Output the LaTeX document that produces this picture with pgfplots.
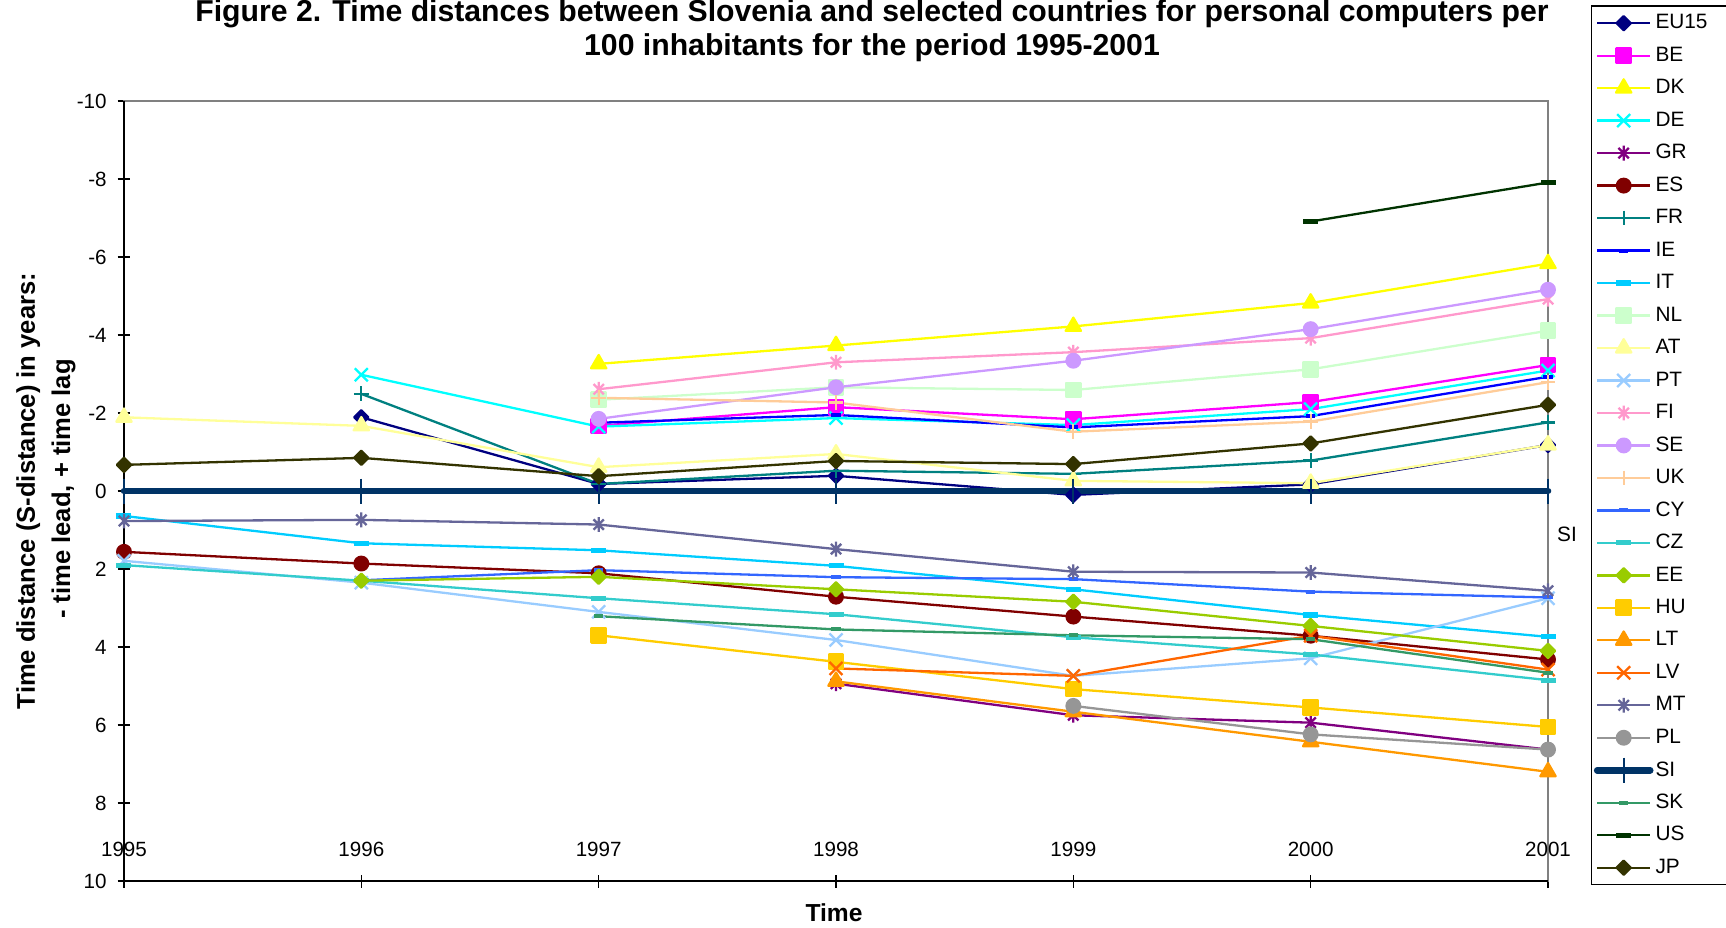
\documentclass[border=0pt]{standalone}
\usepackage{fontspec}
\setmainfont{Liberation Sans}
\usepackage{pgfplots}
\pgfplotsset{compat=1.18}
\definecolor{cEU}{HTML}{000080}\definecolor{cBE}{HTML}{FF00FF}\definecolor{cDK}{HTML}{FFFF00}
\definecolor{cDE}{HTML}{00FFFF}\definecolor{cGR}{HTML}{800080}\definecolor{cES}{HTML}{800000}
\definecolor{cFR}{HTML}{008080}\definecolor{cIE}{HTML}{0000FF}\definecolor{cIT}{HTML}{00CCFF}
\definecolor{cNL}{HTML}{CCFFCC}\definecolor{cAT}{HTML}{FFFF99}\definecolor{cPT}{HTML}{99CCFF}
\definecolor{cFI}{HTML}{FF99CC}\definecolor{cSE}{HTML}{CC99FF}\definecolor{cUK}{HTML}{FFCC99}
\definecolor{cCY}{HTML}{3366FF}\definecolor{cCZ}{HTML}{33CCCC}\definecolor{cEE}{HTML}{99CC00}
\definecolor{cHU}{HTML}{FFCC00}\definecolor{cLT}{HTML}{FF9900}\definecolor{cLV}{HTML}{FF6600}
\definecolor{cMT}{HTML}{666699}\definecolor{cPL}{HTML}{969696}\definecolor{cSI}{HTML}{003366}
\definecolor{cSK}{HTML}{339966}\definecolor{cUS}{HTML}{003300}\definecolor{cJP}{HTML}{333300}
\pgfdeclareplotmark{sdash}{\pgfpathrectangle{\pgfpoint{-2.3bp}{-1bp}}{\pgfpoint{4.6bp}{2bp}}\pgfusepathqfill}
\pgfdeclareplotmark{ldash}{\pgfpathrectangle{\pgfpoint{-3.75bp}{-1.3bp}}{\pgfpoint{7.5bp}{2.6bp}}\pgfusepathqfill}
\pgfdeclareplotmark{xast}{%
 \pgfpathmoveto{\pgfqpoint{-.7\pgfplotmarksize}{-.7\pgfplotmarksize}}\pgfpathlineto{\pgfqpoint{.7\pgfplotmarksize}{.7\pgfplotmarksize}}%
 \pgfpathmoveto{\pgfqpoint{-.7\pgfplotmarksize}{.7\pgfplotmarksize}}\pgfpathlineto{\pgfqpoint{.7\pgfplotmarksize}{-.7\pgfplotmarksize}}%
 \pgfpathmoveto{\pgfqpoint{0pt}{-\pgfplotmarksize}}\pgfpathlineto{\pgfqpoint{0pt}{\pgfplotmarksize}}%
 \pgfusepathqstroke}
\pgfplotsset{
 dia/.style={mark=square*, mark size=2.5bp, mark options={rotate=45}},
 sq/.style={mark=square*, mark size=3.6bp},
 tri/.style={mark=triangle*, mark size=4.4bp},
 crs/.style={mark=x, mark size=4.6bp},
 ast/.style={mark=xast, mark size=3.7bp},
 circ/.style={mark=*, mark size=3.4bp},
 pls/.style={mark=+, mark size=3.7bp},
}
\begin{document}
\begin{tikzpicture}
\begin{axis}[
 scale only axis, width=712bp, height=390bp,
 xmin=1995, xmax=2001, ymin=-10, ymax=10, y dir=reverse,
 xtick={1995,1996,1997,1998,1999,2000,2001},
 ytick={-10,-8,-6,-4,-2,0,2,4,6,8,10},
 x tick label style={/pgf/number format/1000 sep={}},
 /pgf/number format/assume math mode=true,
 tick label style={font=\fontsize{10.3bp}{12bp}\selectfont},
 xticklabel style={anchor=base, inner sep=0pt, yshift=15.75bp},
 yticklabel style={anchor=east, inner sep=0pt, xshift=-5.25bp},
 tick align=center, major tick length=6.5bp, xtick pos=left, ytick pos=left,
 axis line style={draw=gray, line width=0.75bp},
 every tick/.style={black, line width=0.6bp},
 clip=false,
 every axis plot/.append style={line width=1.15bp, line join=round},
 legend image code/.code={\draw[mark repeat=2,mark phase=2,#1] plot coordinates {(0bp,0bp) (13.25bp,0bp) (26.5bp,0bp)};},
 legend cell align=left,
 legend style={at={(axis cs:2001.179,-12.45)}, anchor=north west, draw=black, line width=0.7bp, fill=white,
   inner xsep=1.35bp, inner ysep=0.4bp, row sep=0pt, column sep=0pt,
   font=\fontsize{10.4bp}{12bp}\selectfont,
   nodes={inner xsep=1bp, inner ysep=0pt, minimum height=16.24bp, text width=40.3bp, align=left}},
]
\coordinate (O) at (axis cs:1995,10);
\draw[black, line width=1bp] (axis cs:1995,-10) -- (axis cs:1995,10) -- (axis cs:2001,10);
\addplot[color=cEU, dia] coordinates {(1996,-1.89) (1997,-0.18) (1998,-0.39) (1999,0.10) (2000,-0.17) (2001,-1.18)};
\addplot[color=cBE, sq] coordinates {(1997,-1.67) (1998,-2.15) (1999,-1.84) (2000,-2.28) (2001,-3.23)};
\addplot[color=cDK, tri] coordinates {(1997,-3.26) (1998,-3.73) (1999,-4.22) (2000,-4.82) (2001,-5.83)};
\addplot[color=cDE, crs] coordinates {(1996,-2.98) (1997,-1.65) (1998,-1.87) (1999,-1.69) (2000,-2.10) (2001,-3.09)};
\addplot[color=cGR, ast] coordinates {(1998,4.94) (1999,5.75) (2000,5.94) (2001,6.63)};
\addplot[color=cES, circ] coordinates {(1995,1.56) (1996,1.86) (1997,2.11) (1998,2.71) (1999,3.22) (2000,3.71) (2001,4.32)};
\addplot[color=cFR, pls] coordinates {(1996,-2.49) (1997,-0.18) (1998,-0.52) (1999,-0.44) (2000,-0.78) (2001,-1.76)};
\addplot[color=cIE, mark=sdash] coordinates {(1997,-1.75) (1998,-1.95) (1999,-1.63) (2000,-1.92) (2001,-2.93)};
\addplot[color=cIT, mark=ldash] coordinates {(1995,0.64) (1996,1.34) (1997,1.52) (1998,1.92) (1999,2.52) (2000,3.18) (2001,3.74)};
\addplot[color=cNL, sq] coordinates {(1997,-2.34) (1998,-2.66) (1999,-2.59) (2000,-3.12) (2001,-4.11)};
\addplot[color=cAT, tri] coordinates {(1995,-1.89) (1996,-1.67) (1997,-0.61) (1998,-0.95) (1999,-0.26) (2000,-0.20) (2001,-1.18)};
\addplot[color=cPT, crs] coordinates {(1995,1.79) (1996,2.35) (1997,3.10) (1998,3.82) (1999,4.74) (2000,4.29) (2001,2.75)};
\addplot[color=cFI, ast] coordinates {(1997,-2.61) (1998,-3.30) (1999,-3.56) (2000,-3.92) (2001,-4.92)};
\addplot[color=cSE, circ] coordinates {(1997,-1.85) (1998,-2.66) (1999,-3.34) (2000,-4.15) (2001,-5.16)};
\addplot[color=cUK, pls] coordinates {(1997,-2.39) (1998,-2.27) (1999,-1.52) (2000,-1.78) (2001,-2.79)};
\addplot[color=cCY, mark=sdash] coordinates {(1996,2.29) (1997,2.03) (1998,2.21) (1999,2.26) (2000,2.58) (2001,2.73)};
\addplot[color=cCZ, mark=ldash] coordinates {(1995,1.90) (1996,2.30) (1997,2.75) (1998,3.16) (1999,3.75) (2000,4.19) (2001,4.85)};
\addplot[color=cEE, dia] coordinates {(1996,2.30) (1997,2.20) (1998,2.52) (1999,2.84) (2000,3.46) (2001,4.10)};
\addplot[color=cHU, sq] coordinates {(1997,3.70) (1998,4.38) (1999,5.08) (2000,5.55) (2001,6.05)};
\addplot[color=cLT, tri] coordinates {(1998,4.88) (1999,5.66) (2000,6.43) (2001,7.20)};
\addplot[color=cLV, crs] coordinates {(1998,4.55) (1999,4.74) (2000,3.71) (2001,4.58)};
\addplot[color=cMT, ast] coordinates {(1995,0.77) (1996,0.74) (1997,0.86) (1998,1.49) (1999,2.07) (2000,2.09) (2001,2.56)};
\addplot[color=cPL, circ] coordinates {(1999,5.51) (2000,6.24) (2001,6.63)};
\addplot[color=cSI, line width=3.3bp, line cap=round, mark=|, mark size=6.25bp, mark options={line width=1bp, line cap=butt}] coordinates {(1995,0) (1996,0) (1997,0) (1998,0) (1999,0) (2000,0) (2001,0)};
\addplot[color=cSK, mark=sdash] coordinates {(1997,3.21) (1998,3.55) (1999,3.70) (2000,3.80) (2001,4.66)};
\addplot[color=cUS, mark=ldash] coordinates {(2000,-6.91) (2001,-7.91)};
\addplot[color=cJP, dia] coordinates {(1995,-0.67) (1996,-0.85) (1997,-0.38) (1998,-0.77) (1999,-0.69) (2000,-1.22) (2001,-2.21)};
\legend{EU15,BE,DK,DE,GR,ES,FR,IE,IT,NL,AT,PT,FI,SE,UK,CY,CZ,EE,HU,LT,LV,MT,PL,SI,SK,US,JP}
\end{axis}
\node[anchor=base, font=\bfseries\fontsize{15.1bp}{17bp}\selectfont] at ([shift={(374bp,429.6bp)}]O) {Figure 2. Time distances between Slovenia and selected countries for personal computers per};
\node[anchor=base, font=\bfseries\fontsize{15.1bp}{17bp}\selectfont] at ([shift={(374bp,412.5bp)}]O) {100 inhabitants for the period 1995-2001};
\node[rotate=90, anchor=base, font=\bfseries\fontsize{12.8bp}{15bp}\selectfont] at ([shift={(-44.5bp,195bp)}]O) {Time distance (S-distance) in years:};
\node[rotate=90, anchor=base, font=\bfseries\fontsize{12.8bp}{15bp}\selectfont] at ([shift={(-27bp,196bp)}]O) {- time lead, + time lag};
\node[anchor=base, font=\bfseries\fontsize{12.3bp}{14bp}\selectfont] at ([shift={(355bp,-20.35bp)}]O) {Time};
\node[anchor=base, font=\fontsize{10.4bp}{12bp}\selectfont] at ([shift={(721.5bp,169.5bp)}]O) {SI};
\pgfresetboundingbox
\path[use as bounding box] ([shift={(-62bp,-23.5bp)}]O) rectangle ([shift={(801bp,440.5bp)}]O);
\end{tikzpicture}
\end{document}
